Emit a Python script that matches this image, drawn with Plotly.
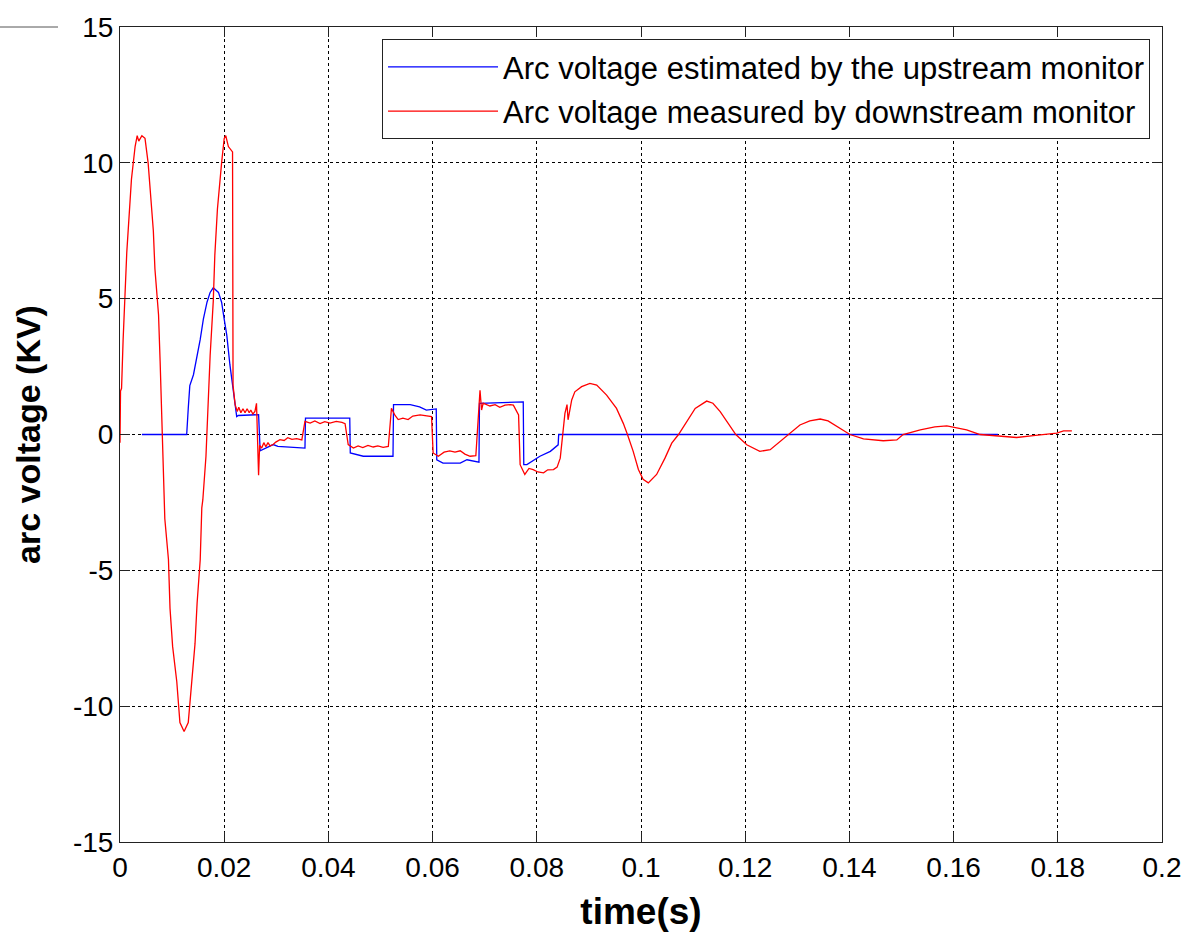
import plotly.graph_objects as go

# Red: arc voltage measured by downstream monitor (time s, kV)
red_t = [0.0, 0.0001, 0.0003, 0.0006, 0.0013, 0.0022, 0.0029, 0.0033, 0.0036, 0.0042, 0.0048,
         0.0054, 0.0058, 0.0064, 0.0067, 0.0074, 0.0077, 0.0080, 0.0083, 0.0086, 0.0093, 0.0096,
         0.0101, 0.0109, 0.0115, 0.0123, 0.0131, 0.0138, 0.0144, 0.0148, 0.0154, 0.0157, 0.0159,
         0.0165, 0.0169, 0.0173, 0.0179, 0.0182, 0.0187, 0.0191, 0.0195, 0.0200, 0.0203, 0.0208,
         0.0216, 0.0217, 0.0221, 0.0225, 0.0228, 0.0232, 0.0236, 0.0240, 0.0244, 0.0248, 0.0251,
         0.0255, 0.0259, 0.0262, 0.0264, 0.0266, 0.0268, 0.0272, 0.0276, 0.0280, 0.0284, 0.0288,
         0.0294, 0.0299, 0.0307, 0.0315, 0.0322, 0.0330, 0.0339, 0.0349, 0.0355, 0.0365, 0.0374,
         0.0384, 0.0393, 0.0403, 0.0415, 0.0426, 0.0432, 0.0438, 0.0448, 0.0457, 0.0466, 0.0476,
         0.0486, 0.0495, 0.0505, 0.0515, 0.0521, 0.0528, 0.0534, 0.0543, 0.0553, 0.0562, 0.0576,
         0.0587, 0.0598, 0.0601, 0.0611, 0.0622, 0.0633, 0.0643, 0.0653, 0.0662, 0.0672, 0.0683,
         0.0688, 0.0691, 0.0694, 0.0697, 0.0710, 0.0720, 0.0729, 0.0739, 0.0749, 0.0755, 0.0765,
         0.0768, 0.0777, 0.0785, 0.0793, 0.0802, 0.0813, 0.0821, 0.0832, 0.0839, 0.0845, 0.0851,
         0.0854, 0.0858, 0.0860, 0.0867, 0.0873, 0.0886, 0.0902, 0.0915, 0.0934, 0.0953, 0.0966,
         0.0974, 0.0985, 0.0995, 0.1004, 0.1014, 0.1030, 0.1046, 0.1059, 0.1072, 0.1088, 0.1104,
         0.1126, 0.1138, 0.1152, 0.1171, 0.1182, 0.1203, 0.1228, 0.1248, 0.1267, 0.1285, 0.1305,
         0.1324, 0.1344, 0.1359, 0.1376, 0.1401, 0.1427, 0.1465, 0.1491, 0.1503, 0.1536, 0.1564,
         0.1587, 0.1625, 0.1651, 0.1689, 0.1721, 0.1753, 0.1779, 0.1798, 0.1811, 0.1827]
red_v = [-0.3, 1.6, 1.7, 3.5, 6.7, 9.4, 10.6, 11.0, 10.8, 11.0, 10.9,
         10.0, 9.0, 7.5, 6.1, 4.4, 2.7, 0.7, -1.2, -3.1, -4.6, -6.4,
         -7.8, -9.1, -10.6, -10.93, -10.6, -9.1, -7.7, -6.2, -4.6, -2.7, -2.4,
         -0.8, 1.2, 2.9, 4.9, 6.6, 8.3, 9.3, 10.0, 10.9, 11.0, 10.6,
         10.4, 1.8, 1.1, 0.85, 1.0, 0.8, 0.95, 0.8, 0.95, 0.8, 0.9,
         0.75, 0.85, 1.15, -0.7, -1.5, -0.4, -0.5, -0.3, -0.45, -0.3, -0.42,
         -0.37, -0.28, -0.19, -0.22, -0.12, -0.18, -0.15, -0.2, 0.48, 0.42, 0.5,
         0.4, 0.47, 0.42, 0.48, 0.45, 0.4, -0.37, -0.5, -0.42, -0.48, -0.4,
         -0.46, -0.42, -0.47, -0.44, 0.96, 0.7, 0.55, 0.6, 0.55, 0.68, 0.72,
         0.7, 0.66, -0.68, -0.8, -0.65, -0.6, -0.65, -0.6, -0.72, -0.8, -0.78,
         0.66, 1.63, 0.9, 1.15, 1.05, 1.1, 1.0, 1.08, 1.1, 1.08, 0.72,
         -1.11, -1.47, -1.25, -1.29, -1.38, -1.41, -1.3, -1.29, -1.2, -0.87, 0.1,
         0.78, 1.1, 0.54, 1.27, 1.57, 1.76, 1.88, 1.82, 1.45, 0.96, 0.41,
         0.0, -0.62, -1.29, -1.65, -1.78, -1.47, -0.87, -0.32, 0.0, 0.48, 0.96,
         1.23, 1.15, 0.84, 0.29, 0.0, -0.38, -0.62, -0.56, -0.26, 0.0, 0.35,
         0.5, 0.57, 0.5, 0.29, 0.0, -0.16, -0.23, -0.2, 0.0, 0.17, 0.28,
         0.32, 0.17, 0.0, -0.05, -0.11, -0.04, 0.01, 0.05, 0.13, 0.13]

# Blue: arc voltage estimated by the upstream monitor
blue_t = [0.0042, 0.0128, 0.0131, 0.0134, 0.0141, 0.0147, 0.0154, 0.0160, 0.0167, 0.0173,
          0.0179, 0.0189, 0.0195, 0.0200, 0.0205, 0.0211, 0.0218, 0.0221, 0.0224, 0.0227,
          0.0259, 0.0266, 0.0269, 0.0294, 0.0303, 0.0355, 0.0356, 0.0441, 0.0442, 0.0467,
          0.0524, 0.0525, 0.0557, 0.0575, 0.0588, 0.0607, 0.0608, 0.0620, 0.0653, 0.0666,
          0.0689, 0.0690, 0.0774, 0.0775, 0.0781, 0.0806, 0.0826, 0.0841, 0.0842, 0.1685]
blue_v = [0.0, 0.0, 0.96, 1.8, 2.2, 2.8, 3.5, 4.25, 4.87, 5.23,
          5.4, 5.23, 4.87, 4.25, 3.65, 2.56, 1.57, 1.1, 0.66, 0.7,
          0.73, 0.73, -0.6, -0.37, -0.44, -0.5, 0.6, 0.6, -0.68, -0.8,
          -0.8, 1.1, 1.1, 1.02, 0.9, 0.94, -0.93, -1.05, -1.05, -0.93,
          -1.02, 1.15, 1.2, -1.11, -1.11, -0.8, -0.62, -0.38, 0.0, 0.0]

x_ticks = [0, 0.02, 0.04, 0.06, 0.08, 0.1, 0.12, 0.14, 0.16, 0.18, 0.2]
x_ticklabels = ["0", "0.02", "0.04", "0.06", "0.08", "0.1", "0.12", "0.14", "0.16", "0.18", "0.2"]
y_ticks = [-15, -10, -5, 0, 5, 10, 15]
y_ticklabels = ["-15", "-10", "-5", "0", "5", "10", "15"]

FONT = "Liberation Sans, Arial, sans-serif"

fig = go.Figure()
fig.add_trace(go.Scatter(x=blue_t, y=blue_v, mode="lines",
                         line=dict(color="#0000ff", width=1.3),
                         name="Arc voltage estimated by the upstream monitor",
                         legendgroup="a"))
fig.add_trace(go.Scatter(x=red_t, y=red_v, mode="lines",
                         line=dict(color="#ff0000", width=1.3),
                         name="Arc voltage measured by downstream monitor",
                         legendgroup="b"))

axis_common = dict(
    showline=True, linecolor="#222222", linewidth=1, mirror="ticks",
    ticks="inside", ticklen=10, tickcolor="#222222",
    showgrid=True, gridcolor="#000000", gridwidth=1, griddash="3px,3px",
    zeroline=False,
    tickfont=dict(family=FONT, size=28, color="black"),
)

fig.update_xaxes(range=[0, 0.2], tickvals=x_ticks, ticktext=x_ticklabels,
                 title=dict(text="<b>time(s)</b>", font=dict(family=FONT, size=37, color="black"),
                            standoff=16),
                 **axis_common)
fig.update_yaxes(range=[-15, 15], tickvals=y_ticks, ticktext=y_ticklabels,
                 title=dict(text="<b>arc voltage (KV)</b>", font=dict(family=FONT, size=34, color="black"),
                            standoff=22),
                 **axis_common)

fig.update_layout(
    width=1194, height=936,
    margin=dict(l=120, r=32, t=23, b=93),
    paper_bgcolor="white", plot_bgcolor="white",
    font=dict(family=FONT, color="black"),
    legend=dict(x=0.9885, xanchor="right", y=0.985, yanchor="top",
                bgcolor="white", bordercolor="#222222", borderwidth=1,
                font=dict(family=FONT, size=31, color="black"),
                itemwidth=110, tracegroupgap=1, traceorder="grouped"),
    shapes=[dict(type="line", xref="paper", yref="paper",
                 x0=-120 / 1042, x1=-62 / 1042, y0=1, y1=1,
                 line=dict(color="#555555", width=1))],
)

fig.write_html("out.html")
